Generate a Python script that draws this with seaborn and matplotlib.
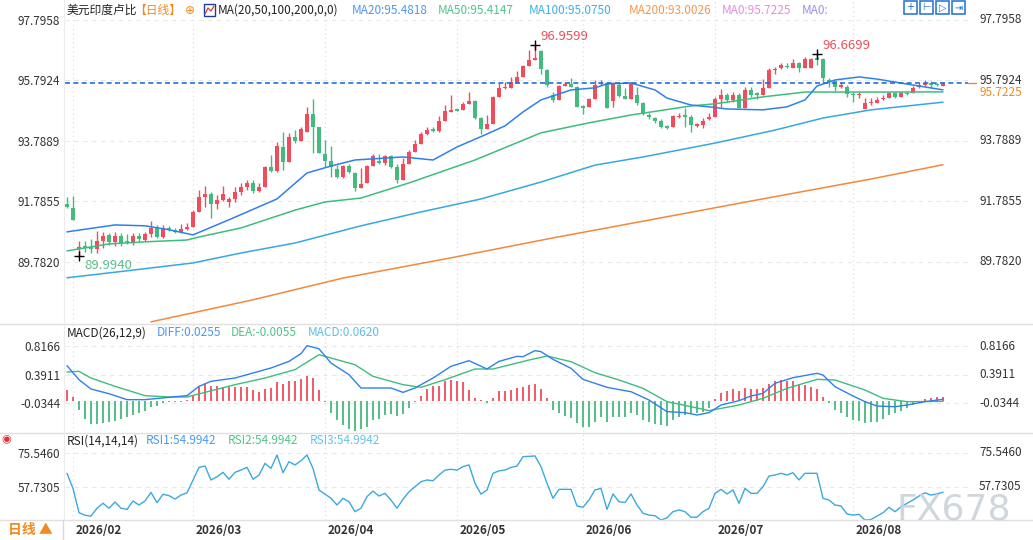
import numpy as np
import pandas as pd
import matplotlib
matplotlib.use("Agg")
import matplotlib.pyplot as plt
import seaborn as sns
from matplotlib import transforms
from matplotlib.patches import Rectangle
from matplotlib.lines import Line2D

# ---------------- data ----------------
dates = pd.bdate_range("2026-01-30", periods=147)

open_ = [91.71,91.57,90.21,90.31,90.28,90.21,90.48,90.68,90.45,90.65,
         90.48,90.41,90.65,90.52,90.71,90.91,90.61,90.91,90.85,90.78,
         90.88,90.94,91.44,91.94,92.04,91.71,91.84,91.77,91.87,92.10,
         92.27,92.40,92.14,92.27,92.93,92.80,93.59,93.10,93.92,93.79,
         94.09,94.69,94.25,93.36,93.13,92.86,92.60,92.96,92.73,92.23,
         92.40,92.96,93.13,93.06,93.29,92.93,92.50,93.03,93.43,93.69,
         94.02,94.19,94.12,94.45,94.75,94.85,94.82,95.02,95.12,94.55,
         94.19,94.35,95.25,95.55,95.55,95.71,95.91,96.27,96.47,96.77,
         96.14,95.31,95.15,95.61,95.68,95.58,94.95,94.92,95.18,95.68,
         95.71,95.11,95.64,95.28,95.18,95.31,95.05,94.65,94.55,94.45,
         94.29,94.25,94.59,94.65,94.59,94.29,94.32,94.52,94.59,95.18,
         95.31,95.15,95.31,94.88,95.48,95.38,95.31,95.55,96.14,96.21,
         96.27,96.21,96.37,96.21,96.21,96.54,96.51,95.81,95.78,95.58,
         95.58,95.35,95.31,94.85,95.05,95.05,95.18,95.21,95.38,95.25,
         95.38,95.38,95.58,95.64,95.71,95.68,95.61]
close = [91.61,91.17,90.28,90.25,90.21,90.48,90.65,90.45,90.65,90.41,
         90.45,90.65,90.55,90.71,90.91,90.61,90.91,90.88,90.78,90.88,
         90.94,91.44,91.94,92.04,91.71,91.84,92.04,91.87,92.10,92.27,
         92.40,92.14,92.27,92.93,92.80,93.63,93.10,93.92,93.79,94.19,
         94.69,94.25,93.39,93.13,92.93,92.60,92.96,92.76,92.23,92.37,
         92.96,93.29,93.06,93.29,92.93,92.50,93.03,93.43,93.69,94.02,
         94.16,94.12,94.45,94.78,94.82,94.78,95.02,95.12,94.55,94.19,
         94.35,95.25,95.55,95.58,95.74,95.91,96.27,96.47,96.54,96.17,
         95.64,95.15,95.61,95.68,95.58,94.92,94.88,95.18,95.64,95.71,
         94.88,95.71,95.28,95.18,95.71,95.05,94.69,94.59,94.45,94.25,
         94.22,94.62,94.62,94.59,94.32,94.35,94.45,94.59,95.18,95.31,
         95.15,95.31,94.88,95.48,95.31,95.31,95.55,96.14,96.17,96.31,
         96.24,96.37,96.21,96.51,96.51,96.47,95.88,95.74,95.58,95.64,
         95.35,95.31,95.35,95.05,95.08,95.15,95.21,95.38,95.25,95.38,
         95.35,95.55,95.64,95.71,95.64,95.64,95.7225]
high = [91.94,91.97,90.48,90.48,90.55,90.81,90.78,90.75,90.78,90.75,
        90.71,90.75,90.75,90.78,91.14,91.01,91.01,90.98,90.91,91.04,
        91.08,91.51,92.17,92.30,92.10,92.01,92.30,91.94,92.27,92.40,
        92.50,92.50,92.40,92.96,93.33,93.76,94.09,94.06,94.15,94.25,
        94.92,95.18,94.25,93.82,93.63,92.99,92.99,93.03,92.76,92.90,
        92.99,93.36,93.36,93.33,93.33,93.03,93.23,93.49,93.82,94.09,
        94.25,94.25,94.62,94.98,95.31,94.88,95.08,95.41,95.15,94.59,
        94.65,95.28,95.71,95.74,95.91,96.11,96.31,96.80,96.9599,96.80,
        96.17,95.41,95.64,95.74,95.88,95.61,94.98,95.21,95.81,95.81,
        95.74,95.74,95.71,95.55,95.74,95.58,95.08,94.72,94.59,94.52,
        94.32,94.65,94.72,94.88,94.65,94.39,94.55,94.72,95.25,95.51,
        95.38,95.41,95.38,95.58,95.58,95.41,95.84,96.21,96.24,96.37,
        96.37,96.51,96.41,96.57,96.54,96.6699,96.54,95.88,95.81,95.74,
        95.64,95.41,95.41,95.21,95.21,95.25,95.31,95.41,95.41,95.41,
        95.41,95.61,95.71,95.81,95.78,95.71,95.74]
low = [91.58,91.17,89.994,90.12,90.08,90.08,90.25,90.35,90.31,90.31,
       90.38,90.35,90.48,90.48,90.61,90.58,90.58,90.81,90.75,90.75,
       90.85,90.94,91.44,91.61,91.24,91.54,91.81,91.61,91.77,92.00,
       92.17,92.07,92.10,92.27,92.76,92.76,92.83,93.10,93.72,93.79,
       94.09,93.39,93.39,92.93,92.60,92.57,92.57,92.73,92.14,92.23,
       92.40,92.96,93.03,92.99,92.90,92.40,92.50,93.03,93.43,93.69,
       93.99,94.09,94.09,94.45,94.75,94.78,94.82,95.02,94.52,94.02,
       94.19,94.35,95.25,95.51,95.55,95.71,95.91,96.27,96.47,96.01,
       95.58,95.08,95.15,95.61,95.58,94.92,94.68,94.92,95.18,95.64,
       94.88,94.92,95.25,95.18,95.18,94.98,94.65,94.52,94.39,94.22,
       94.19,94.25,94.55,94.25,94.09,94.25,94.22,94.49,94.59,94.92,
       95.08,95.08,94.88,94.88,95.25,95.18,95.31,95.55,96.01,96.17,
       96.21,96.21,96.07,96.21,96.21,96.31,95.71,95.58,95.45,95.55,
       95.25,95.08,95.21,94.85,94.98,95.05,95.15,95.21,95.21,95.25,
       95.31,95.38,95.55,95.61,95.55,95.61,95.61]

# moving averages at candle indices
ma20_idx = [0,8,13,17,21,27,35,40,44,48,56,61,65,70,73,76,79,84,88,90,94,98,100,104,107,110,116,120,123,125,128,132,135,138,142,146]
ma20_val = [90.78,91.01,90.98,90.85,90.68,91.18,91.87,92.73,92.96,93.16,93.26,93.16,93.59,94.02,94.29,94.75,95.15,95.48,95.55,95.68,95.71,95.48,95.21,94.98,94.92,94.85,94.82,94.92,95.15,95.61,95.81,95.91,95.84,95.74,95.61,95.4818]
ma50_idx = [0,7,13,20,22,29,38,43,49,57,68,79,87,94,104,108,116,123,134,146]
ma50_val = [90.15,90.38,90.45,90.51,90.61,90.91,91.50,91.77,91.90,92.40,93.16,94.06,94.39,94.65,94.95,95.02,95.25,95.41,95.41,95.4147]
ma100_idx = [0,10,21,29,38,49,59,69,79,88,96,108,118,126,134,146]
ma100_val = [89.26,89.49,89.75,90.08,90.41,90.98,91.44,91.87,92.43,92.99,93.26,93.72,94.15,94.55,94.82,95.0750]
ma200_idx = [14,31,46,64,81,97,114,134,146]
ma200_val = [87.80,88.53,89.25,89.92,90.58,91.17,91.80,92.53,93.0026]

# MACD
diff_idx = [0,2,4,7,10,13,17,20,22,24,28,31,34,37,39,40,42,44,47,49,52,54,56,58,61,64,67,70,72,75,76,78,79,81,84,86,88,90,93,94,97,100,103,105,107,109,112,114,116,118,121,125,126,128,131,133,135,138,140,143,146]
diff_val = [0.527,0.318,0.179,0.109,0.020,0.020,0.055,0.080,0.219,0.294,0.343,0.418,0.493,0.592,0.707,0.826,0.780,0.567,0.393,0.194,0.194,0.194,0.129,0.194,0.343,0.518,0.602,0.478,0.592,0.667,0.662,0.752,0.737,0.622,0.488,0.323,0.264,0.204,0.154,0.139,0.015,-0.159,-0.174,-0.209,-0.174,-0.060,0.005,0.075,0.114,0.264,0.348,0.413,0.388,0.214,0.075,-0.010,-0.075,-0.085,-0.060,-0.010,0.0255]
dea_idx = [0,2,4,8,13,17,20,23,28,33,38,42,44,48,51,56,59,63,68,71,75,77,80,84,88,92,96,100,104,107,112,116,120,125,128,133,136,140,146]
dea_val = [0.433,0.443,0.343,0.219,0.080,0.060,0.060,0.129,0.244,0.343,0.468,0.692,0.642,0.542,0.368,0.244,0.204,0.318,0.478,0.478,0.567,0.612,0.672,0.587,0.423,0.314,0.189,-0.010,-0.085,-0.144,-0.060,0.040,0.189,0.323,0.314,0.164,0.040,-0.010,-0.0055]
macd_hist = [0.159,0.055,-0.139,-0.269,-0.343,-0.343,-0.328,-0.313,-0.294,-0.264,
             -0.244,-0.204,-0.179,-0.144,-0.090,-0.080,-0.030,-0.020,-0.015,-0.010,
             0.015,0.090,0.204,0.259,0.219,0.229,0.204,0.204,0.204,0.204,
             0.204,0.169,0.129,0.179,0.194,0.284,0.254,0.303,0.303,0.333,
             0.378,0.338,0.159,-0.020,-0.179,-0.279,-0.358,-0.413,-0.453,-0.418,
             -0.393,-0.279,-0.269,-0.204,-0.194,-0.229,-0.189,-0.104,-0.020,0.080,
             0.179,0.219,0.229,0.294,0.309,0.294,0.289,0.169,0.040,0.015,
             -0.030,0.040,0.144,0.154,0.170,0.190,0.209,0.239,0.259,0.179,
             0.050,-0.134,-0.174,-0.219,-0.249,-0.333,-0.383,-0.383,-0.309,-0.244,
             -0.309,-0.244,-0.244,-0.244,-0.174,-0.209,-0.284,-0.309,-0.343,-0.358,
             -0.368,-0.284,-0.244,-0.209,-0.184,-0.184,-0.159,-0.109,0.030,0.114,
             0.149,0.174,0.149,0.189,0.179,0.179,0.189,0.254,0.304,0.314,
             0.299,0.299,0.239,0.239,0.204,0.179,0.065,-0.035,-0.134,-0.174,
             -0.244,-0.284,-0.294,-0.324,-0.309,-0.309,-0.269,-0.209,-0.174,-0.144,
             -0.109,-0.060,-0.035,0.030,0.040,0.055,0.062]

rsi = [64.9,57.0,44.3,42.9,42.5,46.6,49.2,46.6,49.9,46.6,
       46.0,50.4,48.3,50.4,54.9,49.5,53.9,53.2,51.4,53.5,
       54.7,61.4,68.0,68.7,61.4,63.1,65.4,61.8,65.4,66.6,
       68.0,61.8,64.0,70.1,67.5,74.5,65.2,71.0,69.3,71.5,
       74.5,67.5,56.1,54.0,51.8,48.3,51.8,50.0,44.8,46.6,
       52.7,55.6,53.0,54.4,50.9,46.6,51.3,55.2,57.9,60.5,
       61.4,61.0,64.0,66.6,67.0,66.6,68.4,69.3,59.7,54.0,
       56.1,64.9,66.2,66.6,68.0,68.7,73.6,73.8,74.0,68.4,
       59.7,51.8,56.5,56.5,56.5,47.8,47.1,50.9,56.2,57.0,
       46.0,54.1,50.0,49.6,54.1,48.3,44.0,43.0,42.7,40.4,
       41.6,44.8,45.7,44.8,41.9,41.9,44.8,46.6,54.4,56.5,
       54.1,56.2,49.2,57.0,54.4,54.4,57.9,63.5,64.0,64.9,
       64.0,65.2,61.4,64.9,64.9,64.9,51.8,50.9,48.3,47.8,
       43.6,43.0,43.4,40.4,40.7,42.5,44.2,47.1,44.8,47.3,
       49.2,50.9,53.0,54.7,53.5,54.1,54.9942]

price_ticks = [97.7958, 95.7924, 93.7889, 91.7855, 89.7820]
price_labels = ["97.7958", "95.7924", "93.7889", "91.7855", "89.7820"]
macd_ticks = [0.8166, 0.3911, -0.0344]
macd_labels = ["0.8166", "0.3911", "-0.0344"]
rsi_ticks = [75.5460, 57.7305]
rsi_labels = ["75.5460", "57.7305"]

# ---------------- style ----------------
sns.set_theme(style="white")
plt.rcParams["font.family"] = ["Noto Sans CJK SC", "DejaVu Sans"]
FAM = ["Noto Sans CJK SC", "DejaVu Sans"]

RED = "#ef4d5c"
GREEN = "#45b97e"
C_MA20 = "#2f80ed"
C_MA50 = "#3dbd7d"
C_MA100 = "#35a8e0"
C_MA200 = "#f5883c"
TXT = "#333333"

W, H = 1033, 540
fig = plt.figure(figsize=(W / 100, H / 100), dpi=100)
fig.patch.set_facecolor("white")


def fx(px):
    return px / W


def fy(py):
    return 1 - py / H


def panel(top, bottom):
    a = fig.add_axes([65 / W, 1 - bottom / H, 903 / W, (bottom - top) / H])
    a.set_facecolor("none")
    for s in a.spines.values():
        s.set_visible(False)
    a.set_xlim(-0.333, 150.17)
    return a


ax1 = panel(0, 323)
ax2 = panel(324, 432)
ax3 = panel(434, 520)

N = len(close)
x = np.arange(N)
o = np.array(open_); c = np.array(close); h = np.array(high); l = np.array(low)
up = c >= o
ccol = np.where(up, RED, GREEN)

month_pos = [i for i in range(1, N) if dates[i].month != dates[i - 1].month]
month_lab = [dates[i].strftime("%Y/%m") for i in month_pos]

for a in (ax1, ax2, ax3):
    a.set_xticks(month_pos)
    a.grid(axis="x", linestyle=(0, (1, 3)), color="#d9d9d9", lw=0.8)
    a.grid(axis="y", linestyle=(0, (4, 4)), color="#e8e8e8", lw=0.8)
    a.tick_params(axis="both", length=0)

# ---- main panel ----
ax1.set_ylim(87.762, 98.458)
ax1.vlines(x, l, h, colors=ccol, lw=1, zorder=2)
ax1.bar(x, np.maximum(np.abs(c - o), 0.012), bottom=np.minimum(o, c), width=0.7,
        color=ccol, linewidth=0, zorder=2)
for idx, val, col in [(ma200_idx, ma200_val, C_MA200), (ma100_idx, ma100_val, C_MA100),
                      (ma50_idx, ma50_val, C_MA50), (ma20_idx, ma20_val, C_MA20)]:
    sns.lineplot(x=idx, y=val, ax=ax1, color=col, lw=1.1, estimator=None, sort=False,
                 legend=False, zorder=3)
ax1.axhline(c[-1], color="#1f6fe0", ls=(0, (3, 2)), lw=1.2, zorder=4)
ax1.set_yticks(price_ticks)
ax1.set_yticklabels(price_labels)
ax1.set_xticklabels([])

# extreme markers
imax = int(np.argmax(h)); imin = int(np.argmin(l))
ipk2 = 125
for i_, v_, txt, col, dy in [(imax, h[imax], f"{h[imax]:.4f}", "#e8505b", 6),
                             (ipk2, h[ipk2], f"{h[ipk2]:.4f}", "#e8505b", 6),
                             (imin, l[imin], f"{l[imin]:.4f}", "#5cbf8a", -7)]:
    ax1.plot([i_], [v_], marker="+", color="black", ms=7, mew=1, zorder=5)
    ax1.annotate(txt, (i_, v_), xytext=(3.8, dy), textcoords="offset points",
                 ha="left", va="center", color=col, fontsize=9.5, zorder=5)

# ---- MACD panel ----
ax2.set_ylim(-0.463, 1.150)
hist = np.array(macd_hist)
ax2.vlines(x, 0, hist, colors=np.where(hist >= 0, RED, GREEN), lw=1.3)
sns.lineplot(x=dea_idx, y=dea_val, ax=ax2, color=C_MA50, lw=1.0, estimator=None,
             sort=False, legend=False)
sns.lineplot(x=diff_idx, y=diff_val, ax=ax2, color=C_MA20, lw=1.0, estimator=None,
             sort=False, legend=False)
ax2.set_yticks(macd_ticks)
ax2.set_yticklabels(macd_labels)
ax2.set_xticklabels([])

# ---- RSI panel ----
ax3.set_ylim(40.44, 85.50)
sns.lineplot(x=x, y=rsi, ax=ax3, color="#3aa9e0", lw=1.0, estimator=None, sort=False,
             legend=False)
ax3.set_yticks(rsi_ticks)
ax3.set_yticklabels(rsi_labels)
ax3.set_xticklabels(month_lab, ha="left", fontweight="bold", fontsize=8.5, color=TXT)
ax3.tick_params(axis="x", pad=3)
off = transforms.ScaledTranslation(3 / 100, 0, fig.dpi_scale_trans)
for lab in ax3.get_xticklabels():
    lab.set_transform(lab.get_transform() + off)

for a, ticks, labs in [(ax1, price_ticks, price_labels), (ax2, macd_ticks, macd_labels),
                       (ax3, rsi_ticks, rsi_labels)]:
    a.tick_params(axis="y", pad=3.5, labelsize=8.5, labelcolor=TXT)
    tr = transforms.blended_transform_factory(fig.transFigure, a.transData)
    for v, s in zip(ticks, labs):
        a.text(fx(979), v, s, transform=tr, ha="left", va="center", fontsize=8.5, color=TXT)

# last price tag
fig.text(fx(979), fy(92), f"{c[-1]:.4f}", ha="left", va="center", fontsize=8.5, color="#f08a24")
trp = transforms.blended_transform_factory(fig.transFigure, ax1.transData)
fig.add_artist(Line2D([fx(968), fx(976)], [c[-1], c[-1]], transform=trp, color="#f08a24", lw=1))

# ---- separators / frame ----
for py in (323.5, 432.5, 519.5):
    fig.add_artist(Line2D([0, 1], [fy(py), fy(py)], transform=fig.transFigure,
                          color="#e0e0e0", lw=1))
fig.add_artist(Line2D([fx(64), fx(64)], [fy(0), fy(519.5)], transform=fig.transFigure,
                      color="#ececec", lw=0.8))
fig.add_artist(Line2D([fx(63), fx(63)], [fy(519.5), 0], transform=fig.transFigure,
                      color="#d8d8d8", lw=1))

# ---- headers ----
def t(px, py, s, col, **kw):
    fig.text(fx(px), fy(py), s, color=col, ha="left", va="center", fontsize=8.5, **kw)

t(67, 10, "美元印度卢比", "#222222")
t(134, 10, "【日线】", "#f08a24")
t(185, 11, "⊕", "#f08a24", family="DejaVu Sans")
fig.add_artist(Rectangle((fx(204), fy(16)), 11 / W, 12 / H, transform=fig.transFigure,
                         fill=False, ec="#1a3f9a", lw=1))
fig.add_artist(Line2D([fx(205), fx(208), fx(211), fx(214)], [fy(14), fy(8), fy(11), fy(6)],
                      transform=fig.transFigure, color="#d83a3a", lw=0.9))
t(218, 10, "MA(20,50,100,200,0,0)", "#222222")
t(352, 10, f"MA20:{ma20_val[-1]:.4f}", "#4a98f2")
t(438, 10, f"MA50:{ma50_val[-1]:.4f}", "#4fc48a")
t(529, 10, f"MA100:{ma100_val[-1]:.4f}", "#3db0e6")
t(629, 10, f"MA200:{ma200_val[-1]:.4f}", "#f5964e")
t(722, 10, f"MA0:{c[-1]:.4f}", "#e98ae0")
t(802, 10, "MA0:", "#9b8cf2")

for bx in (904, 920, 936, 952):
    fig.add_artist(Rectangle((fx(bx), fy(14)), 13 / W, 13 / H, transform=fig.transFigure,
                             fill=False, ec="#1e6fcf", lw=1.1))
for bx, g in [(904, "+"), (920, "⊢"), (936, "▷"), (952, "⇥")]:
    fig.text(fx(bx + 6.5), fy(7.5), g, ha="center", va="center", fontsize=7,
             color="#1e6fcf", family="DejaVu Sans")

t(67, 333, "MACD(26,12,9)", "#222222")
t(157, 333, f"DIFF:{diff_val[-1]:.4f}", "#4a98f2")
t(231, 333, f"DEA:{dea_val[-1]:.4f}", "#4fc48a")
t(308, 333, f"MACD:{macd_hist[-1]:.4f}", "#5bbfe8")

t(67, 441, "RSI(14,14,14)", "#222222")
t(146, 441, f"RSI1:{rsi[-1]:.4f}", "#4a98f2")
t(228, 441, f"RSI2:{rsi[-1]:.4f}", "#4fc48a")
t(310, 441, f"RSI3:{rsi[-1]:.4f}", "#66c0ee")
fig.text(fx(1), fy(439), "◉", color="#e03030", ha="left", va="center", fontsize=8,
         family="DejaVu Sans")

fig.text(fx(8), fy(530), "日线 ▲", color="#f08a24", ha="left", va="center", fontsize=10,
         fontweight="bold", family=FAM)
fig.text(fx(897), fy(509), "FX678", color="#cbd2da", ha="left", va="center", fontsize=26,
         family="DejaVu Sans", alpha=0.9)

fig.savefig("out.png", dpi=100)
